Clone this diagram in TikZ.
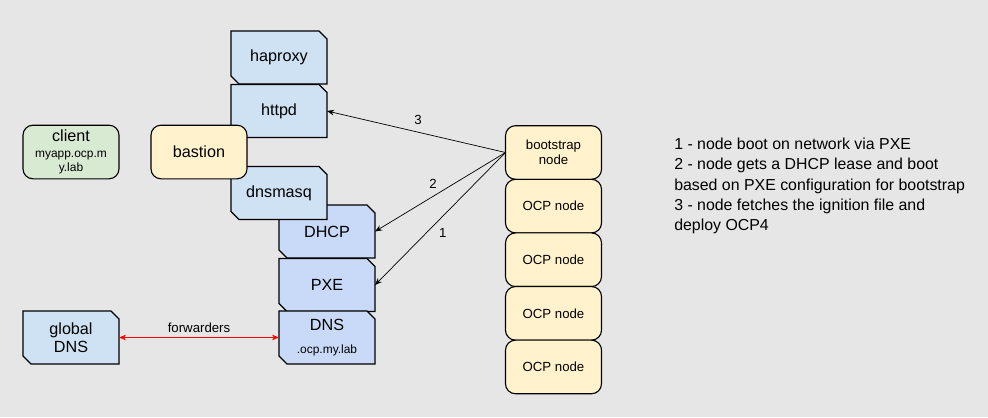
\documentclass[tikz,border=0pt]{standalone}
\usepackage{fontspec}
\setmainfont{Liberation Sans}
\usepackage{tikz}
\usetikzlibrary{arrows.meta, positioning, backgrounds}

\definecolor{bgGray}{HTML}{E6E6E6}
\definecolor{lightBlue}{HTML}{CFE2F3}
\definecolor{midBlue}{HTML}{C9DAF8}
\definecolor{paleYellow}{HTML}{FFF2CC}
\definecolor{paleGreen}{HTML}{D9EAD3}

\begin{document}
\begin{tikzpicture}[x=0.025cm, y=-0.025cm,
    snip/.style={rectangle, inner sep=0pt, outer sep=0pt, minimum width=2.4cm, minimum height=1.325cm,
        align=center, font=\fontsize{11.5}{13}\selectfont,
        append after command={\pgfextra{\begin{pgfonlayer}{background}
            \draw[fill=#1, line width=0.8pt] (\tikzlastnode.north west)
                -- ([xshift=-0.2cm]\tikzlastnode.north east) -- ([yshift=-0.2cm]\tikzlastnode.north east)
                -- (\tikzlastnode.south east) -- ([xshift=0.2cm]\tikzlastnode.south west)
                -- ([yshift=0.2cm]\tikzlastnode.south west) -- cycle;
            \end{pgfonlayer}}}},
    roundbox/.style={rectangle, rounded corners=0.25cm, draw, line width=0.8pt, inner sep=0pt, outer sep=0pt,
        minimum width=2.4cm, minimum height=1.34cm, align=center},
    link/.style={-{Stealth[length=5pt, width=4pt]}, line width=0.5pt},
    small/.style={font=\fontsize{9.4}{11}\selectfont}]

    \begin{pgfonlayer}{background}
        \fill[bgGray] (0,0) rectangle (988,417);
    \end{pgfonlayer}

    % services
    \node[snip=midBlue] (dhcp) at (327,231.5) {DHCP};
    \node[snip=midBlue] (pxe) at (327,285) {PXE};
    \node[snip=midBlue] (dns) at (327,337.5) {DNS\\[3pt]{\fontsize{8.5}{10}\selectfont .ocp.my.lab}};
    \node[snip=lightBlue] (haproxy) at (279,57.5) {haproxy};
    \node[snip=lightBlue] (httpd) at (279,111) {httpd};
    \node[snip=lightBlue] (dnsmasq) at (279,193) {dnsmasq};
    \node[snip=lightBlue] (globaldns) at (71,337.5) {global\\DNS};

    \node[roundbox, fill=paleYellow, font=\fontsize{11.5}{13}\selectfont] (bastion) at (199,152) {bastion};
    \node[roundbox, fill=paleGreen, font=\fontsize{8.5}{10}\selectfont] (client) at (71,152)
        {{\fontsize{11.5}{13}\selectfont client}\\[1pt]myapp.ocp.m\\y.lab};

    % cluster nodes
    \node[roundbox, fill=paleYellow, small] (boot) at (553.5,152.5) {bootstrap\\node};
    \node[roundbox, fill=paleYellow, small, below=0pt of boot] (ocp1) {OCP node};
    \node[roundbox, fill=paleYellow, small, below=0pt of ocp1] (ocp2) {OCP node};
    \node[roundbox, fill=paleYellow, small, below=0pt of ocp2] (ocp3) {OCP node};
    \node[roundbox, fill=paleYellow, small, below=0pt of ocp3] (ocp4) {OCP node};

    \draw[link] (boot.west) -- node[small, pos=0.49, yshift=0.31cm] {3} (httpd.east);
    \draw[link] (boot.west) -- node[small, pos=0.555, yshift=0.31cm] {2} (dhcp.east);
    \draw[link] (boot.west) -- node[small, pos=0.48, yshift=-0.42cm] {1} (pxe.east);

    \draw[{Stealth[length=5pt, width=4pt]}-{Stealth[length=5pt, width=4pt]}, red, line width=0.5pt]
        (globaldns.east) -- node[small, above, black] {forwarders} (dns.west);

    \node[anchor=west, align=left, inner sep=0pt, font=\fontsize{11.3}{14.4}\selectfont] (steps) at (674,186) {%
        1 - node boot on network via PXE\\
        2 - node gets a DHCP lease and boot\\
        based on PXE configuration for bootstrap\\
        3 - node fetches the ignition file and\\
        deploy OCP4};
\end{tikzpicture}
\end{document}
